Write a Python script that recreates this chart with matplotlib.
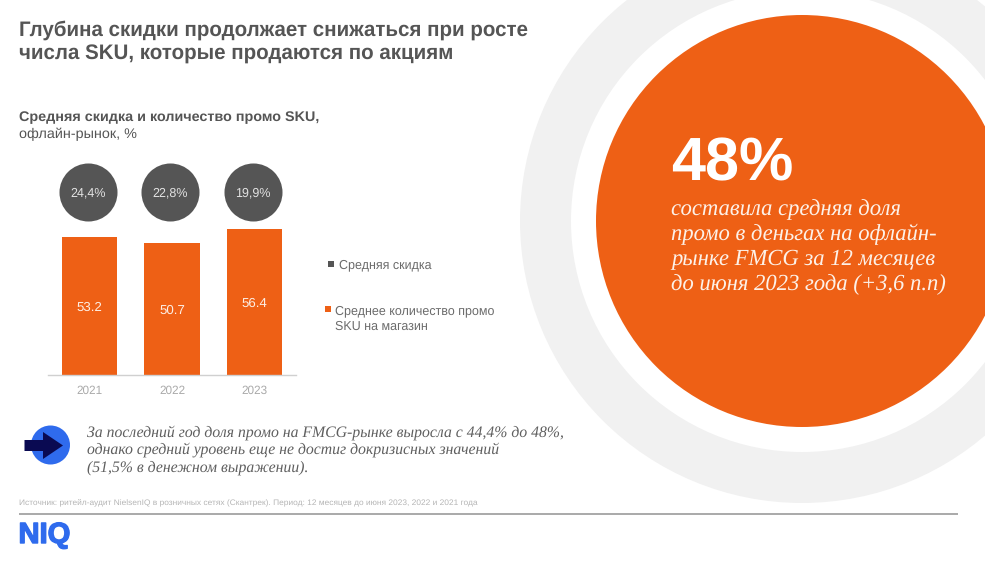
import matplotlib
matplotlib.use('Agg')
import matplotlib.pyplot as plt
import matplotlib.patheffects as pe
from matplotlib.patches import Circle, Polygon, Rectangle

plt.rcParams['font.family'] = ['Liberation Sans', 'DejaVu Sans']
plt.rcParams['text.hinting'] = 'no_hinting'

# Chart data
years = ['2021', '2022', '2023']
promo_sku = [53.2, 50.7, 56.4]
discount_labels = ['24,4%', '22,8%', '19,9%']

ORANGE = '#ee6015'
DARK = '#555555'
TEXT = '#555555'

W, H = 985, 561
fig = plt.figure(figsize=(W / 100, H / 100), dpi=100, facecolor='white')

# Full page axes in pixels for the slide decoration
bg = fig.add_axes([0, 0, 1, 1])
bg.set_xlim(0, W)
bg.set_ylim(H, 0)
bg.axis('off')

# Big circles on the right
bg.add_patch(Circle((802, 221), 282, color='#f1f1f1', lw=0))
bg.add_patch(Circle((802, 221), 231, color='white', lw=0))
bg.add_patch(Circle((802, 221), 206, color=ORANGE, lw=0))

bg.text(671, 158, '48%', color='white', fontsize=44, fontweight='bold', va='center_baseline')
big_lines = ['составила средняя доля', 'промо в деньгах на офлайн-',
             'рынке FMCG за 12 месяцев', 'до июня 2023 года (+3,6 п.п)']
for i, line in enumerate(big_lines):
    bg.text(671, 207 + i * 25, line, color='#fdf1e8', fontsize=16.3, style='italic',
            family='Liberation Serif', va='center_baseline')

# Titles
bg.text(19, 28, 'Глубина скидки продолжает снижаться при росте', color=TEXT,
        fontsize=14.8, fontweight='bold', va='center_baseline')
bg.text(19, 52, 'числа SKU, которые продаются по акциям', color=TEXT,
        fontsize=14.8, fontweight='bold', va='center_baseline')
bg.text(19, 116, 'Средняя скидка и количество промо SKU,', color=TEXT,
        fontsize=10.35, fontweight='bold', va='center_baseline')
bg.text(19, 133, 'офлайн-рынок, %', color=TEXT, fontsize=10.35, va='center_baseline')

# Legend
bg.add_patch(Rectangle((328, 261), 6, 6, color=DARK, lw=0))
bg.text(339, 264, 'Средняя скидка', color='#6b6b6b', fontsize=9, va='center_baseline')
bg.add_patch(Rectangle((325, 306), 6, 6, color=ORANGE, lw=0))
bg.text(335, 310, 'Среднее количество промо', color='#6b6b6b', fontsize=9, va='center_baseline')
bg.text(335, 325, 'SKU на магазин', color='#6b6b6b', fontsize=9, va='center_baseline')

# Note with the arrow
bg.add_patch(Circle((50.5, 445), 19.5, color='#2f6bed', lw=0))
bg.add_patch(Polygon([(24.5, 440), (43, 440), (43, 432), (63, 445.5), (43, 459),
                      (43, 451), (24.5, 451)], closed=True, color='#0a0a52', lw=0))
note_lines = ['За последний год доля промо на FMCG-рынке выросла с 44,4% до 48%,',
              'однако средний уровень еще не достиг докризисных значений',
              '(51,5% в денежном выражении).']
for y, line in zip([431, 448, 466], note_lines):
    bg.text(87, y, line, color='#5f5f5f', fontsize=11.38, style='italic',
            family='Liberation Serif', va='center_baseline')

# Footer
bg.text(19, 502, 'Источник: ритейл-аудит NielsenIQ в розничных сетях (Скантрек). '
        'Период: 12 месяцев до июня 2023, 2022 и 2021 года',
        color='#b5b5b5', fontsize=6, va='center_baseline')
bg.plot([19, 958], [513.5, 513.5], color='#a3a3a3', lw=1.3, solid_capstyle='butt')
bg.text(18.5, 532.5, 'NIQ', color='#2f6bed', fontsize=21, fontweight='bold', va='center_baseline',
        path_effects=[pe.withStroke(linewidth=1, foreground='#2f6bed')])

# Bar chart axes, baseline at y=375 and 2.594 px per unit
left, right, base = 48, 296, 375
px_per_unit = 2.594
step = 82.5
ax = fig.add_axes([left / W, (H - base) / H, (right - left) / W, 200 / H])
ax.patch.set_alpha(0)
ax.set_xlim((left - 89.5) / step, (right - 89.5) / step)
ax.set_ylim(0, 200 / px_per_unit)

pos = list(range(len(years)))
ax.bar(pos, promo_sku, width=0.667, color=ORANGE)
for x, v in zip(pos, promo_sku):
    ax.text(x, v / 2, str(v), color='#fdeee4', fontsize=9.5, ha='center', va='center_baseline')

# Discount bubbles sit in a row above the bars
bubble_y = (base - 192) / px_per_unit
ax.scatter([p - 0.02 for p in pos], [bubble_y] * 3, s=1745, color=DARK, linewidths=0, clip_on=False)
for x, label in zip(pos, discount_labels):
    ax.text(x - 0.02, bubble_y, label, color='#e2e2e2', fontsize=9, ha='center', va='center_baseline')

ax.set_xticks(pos)
ax.set_xticklabels(years, color='#aaaaaa', fontsize=8.5)
ax.tick_params(axis='x', length=0, pad=7)
ax.set_yticks([])
for side in ['top', 'left', 'right']:
    ax.spines[side].set_visible(False)
ax.spines['bottom'].set_color('#d0d0d0')
ax.spines['bottom'].set_linewidth(1)

fig.savefig('out.png', dpi=100)
